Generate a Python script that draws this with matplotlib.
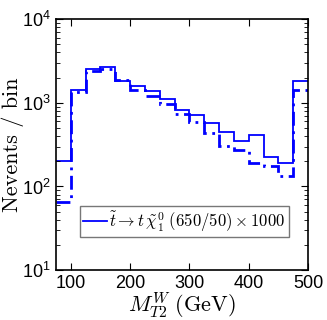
import numpy as np
import matplotlib
matplotlib.use("Agg")
import matplotlib.pyplot as plt

plt.rcParams["mathtext.fontset"] = "cm"
plt.rcParams["font.family"] = ["Liberation Sans", "DejaVu Sans"]

# bin edges (GeV) and contents
edges = [75, 100, 125, 150, 175, 200, 225, 250, 275, 300, 325, 350, 375, 400, 425, 450, 475, 500]
solid = [203, 1410, 2550, 2670, 1840, 1600, 1375, 1115, 817, 707, 569, 448, 347, 409, 223, 190, 1800]
dashdot = [65, 1350, 2420, 2550, 1875, 1440, 1200, 955, 740, 590, 430, 306, 276, 190, 174, 135, 1440]

fig = plt.figure(figsize=(3.27, 3.2), dpi=100)
ax = fig.add_axes([0.171, 0.156, 0.771, 0.784])

ax.stairs(solid, edges, baseline=None, color="#0000ff", lw=1.3,
          label=r"$\tilde{t}\rightarrow t\,\tilde{\chi}_1^0\ (650/50)\times 1000$")
ax.stairs(dashdot, edges, baseline=None, color="#0000ff", lw=2.0, ls=(0, (5, 2, 1, 2)))

ax.set_yscale("log")
ax.set_xlim(75, 500)
ax.set_ylim(10, 1e4)
ax.set_xticks([100, 200, 300, 400, 500])
ax.tick_params(which="both", direction="in", top=True, right=True, labelsize=13)
ax.tick_params(which="major", length=5)
ax.tick_params(which="minor", length=3)
for s in ax.spines.values():
    s.set_linewidth(1.2)

ax.set_xlabel(r"$M_{T2}^{W}\ (\mathrm{GeV})$", fontsize=16, labelpad=-1)
ax.set_ylabel("Nevents / bin", fontsize=16, fontfamily="cmr10")
ax.yaxis.set_label_coords(-0.125, 0.5)

leg = ax.legend(loc="lower center", bbox_to_anchor=(0.51, 0.13), fontsize=12,
                fancybox=False, edgecolor="#555555", handlelength=1.4,
                handletextpad=0.15, borderpad=0.2, borderaxespad=0)
leg.get_frame().set_linewidth(1.0)

fig.savefig("out.png", dpi=100)
